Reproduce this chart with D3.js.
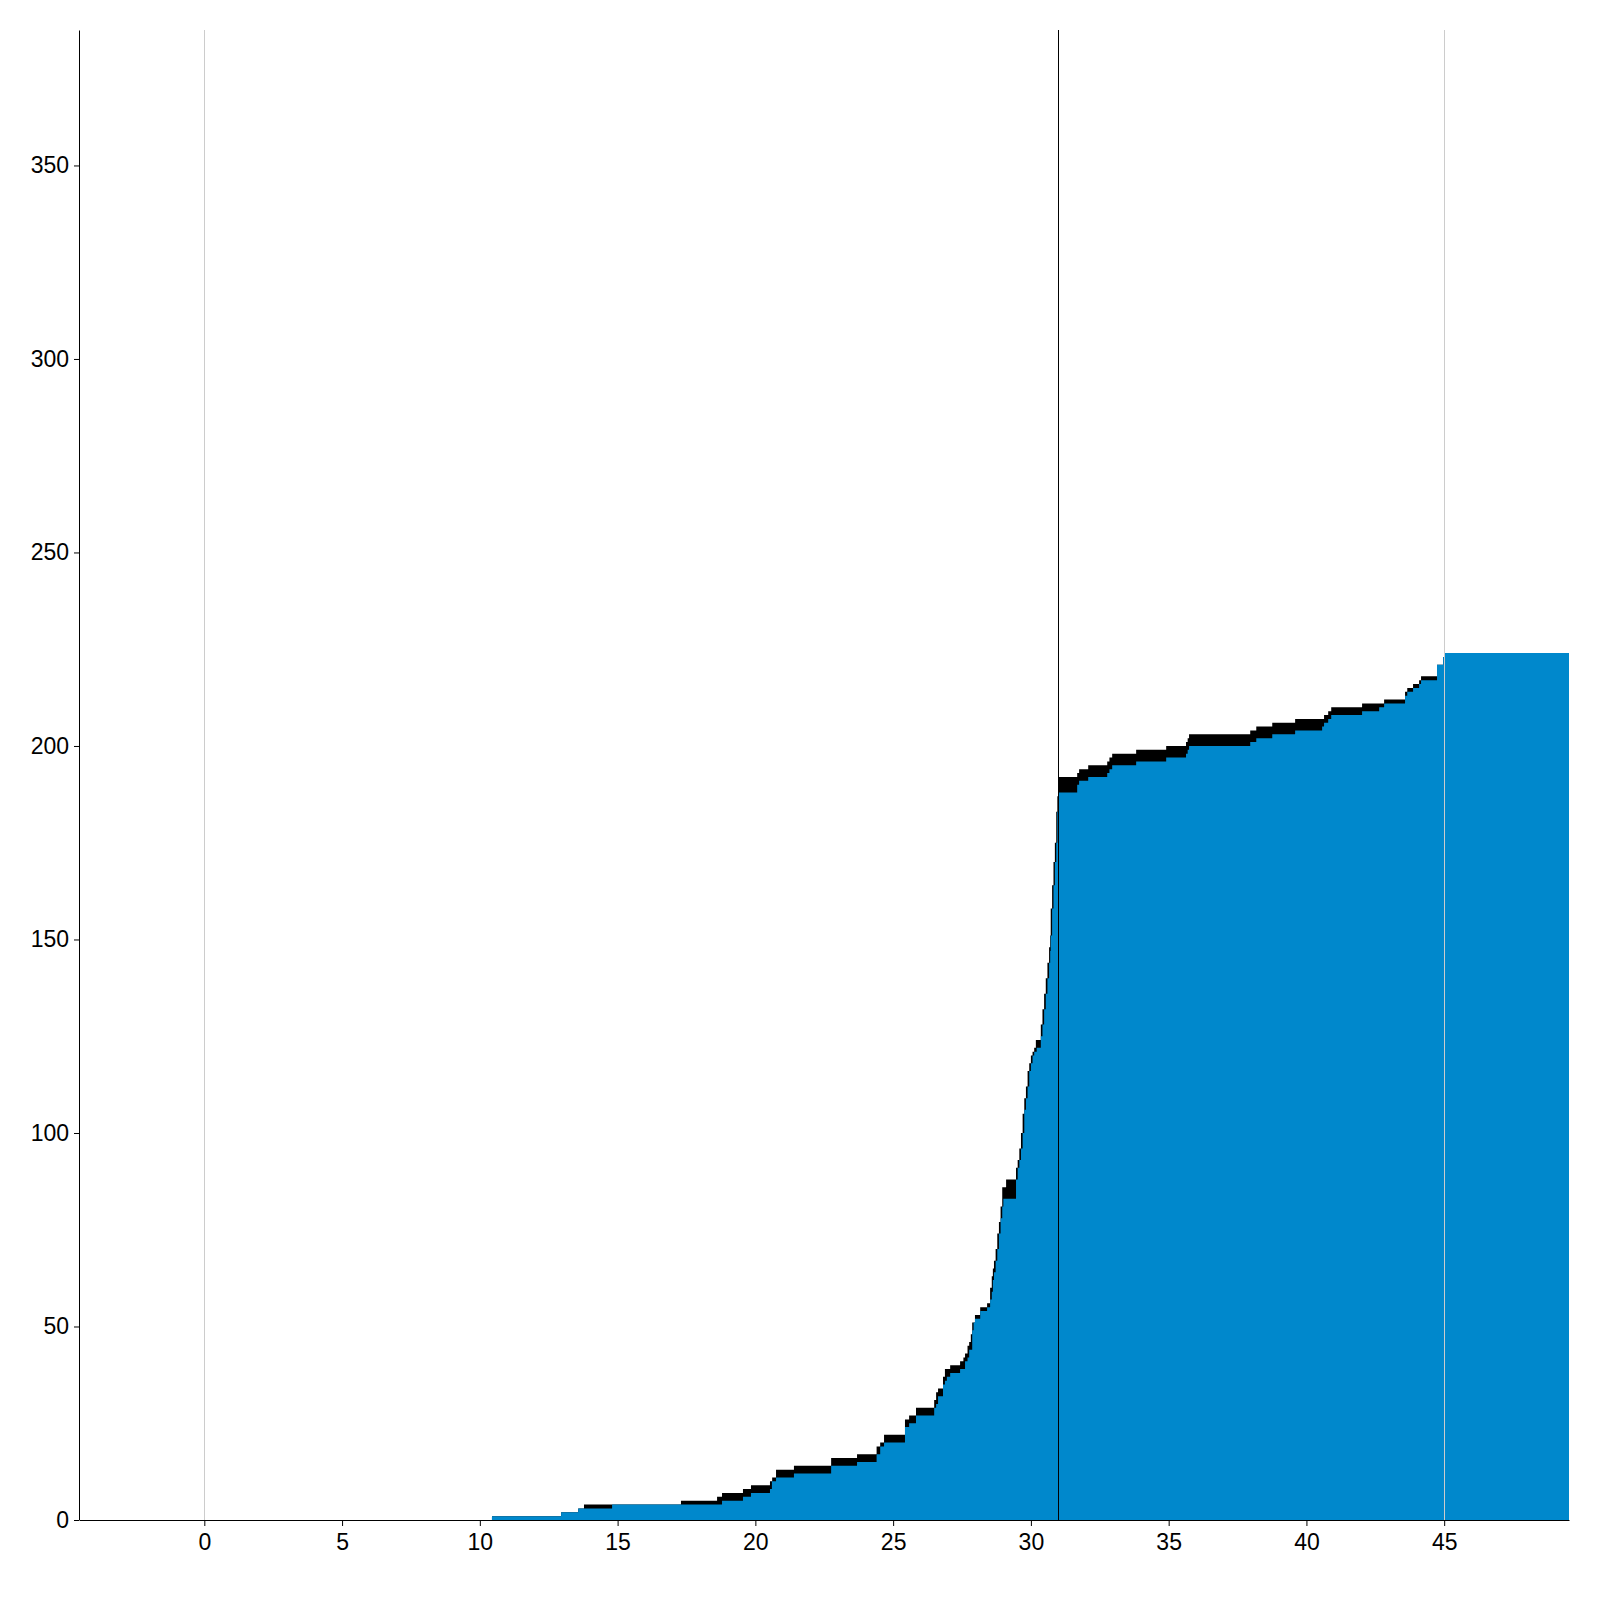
<!DOCTYPE html>
<html>
<head>
<meta charset="utf-8">
<script src="https://cdn.jsdelivr.net/npm/d3@7"></script>
<style>
  body { margin: 0; background: #fff; }
  text { font-family: "Liberation Sans", Arial, sans-serif; }
</style>
</head>
<body>
<svg id="chart" width="1600" height="1600"></svg>
<script>
// ---- data ----
const blueX = [10.44, 12.95, 13.57, 14.80, 18.79, 19.55, 19.84, 20.53, 20.60, 20.75, 21.40, 22.75, 23.69,
  24.40, 24.53, 24.67, 25.43, 25.58, 25.83, 26.49, 26.56, 26.63, 26.81, 26.88, 26.95, 27.07, 27.43, 27.61,
  27.70, 27.76, 27.87, 27.92, 27.97, 28.16, 28.41, 28.52, 28.58, 28.62, 28.66, 28.72, 28.78, 28.84, 28.90,
  28.96, 29.00, 29.46, 29.52, 29.58, 29.64, 29.70, 29.76, 29.82, 29.88, 29.94, 30.00, 30.06, 30.12, 30.21,
  30.36, 30.42, 30.48, 30.54, 30.60, 30.66, 30.70, 30.72, 30.77, 30.82, 30.87, 30.92, 30.96, 30.99, 31.01,
  31.68, 31.75, 32.08, 32.77, 32.85, 32.95, 33.82, 34.91, 35.63, 35.69, 35.74, 37.96, 38.18, 38.76, 39.59,
  40.57, 40.64, 40.79, 40.90, 42.02, 42.64, 42.82, 43.58, 43.66, 43.87, 44.09, 44.16, 44.74, 44.96, 45.00, 49.53];
const blueY = [1, 2, 3, 4, 5, 6, 7, 8, 10, 11, 12, 14, 15,
  17, 19, 20, 24, 25, 27, 29, 30, 32, 35, 36, 37, 38, 39, 41,
  42, 44, 49, 51, 52, 54, 55, 57, 59, 62, 64, 67, 70, 74, 78,
  81, 83, 88, 91, 93, 96, 100, 106, 109, 112, 116, 118, 120, 121, 122,
  125, 128, 132, 136, 140, 144, 147, 151, 158, 164, 170, 175, 183, 187, 188,
  190, 191, 192, 193, 194, 195, 196, 197, 198, 199, 200, 201, 202, 203, 204,
  205, 206, 207, 208, 209, 210, 211, 213, 214, 215, 216, 217, 221, 223, 224, 224];

const totalX = [10.44, 12.95, 13.57, 13.78, 17.30, 18.61, 18.79, 19.55, 19.84, 20.53, 20.61, 20.75, 21.40,
  22.75, 23.69, 24.40, 24.53, 24.67, 25.43, 25.58, 25.83, 26.49, 26.56, 26.63, 26.81, 26.88, 27.07, 27.43,
  27.55, 27.61, 27.70, 27.76, 27.82, 27.87, 27.97, 28.16, 28.41, 28.52, 28.58, 28.62, 28.66, 28.72, 28.78,
  28.84, 28.90, 28.96, 29.10, 29.46, 29.52, 29.58, 29.64, 29.70, 29.76, 29.82, 29.88, 29.94, 30.00, 30.06,
  30.12, 30.18, 30.36, 30.42, 30.48, 30.54, 30.60, 30.66, 30.70, 30.72, 30.77, 30.82, 30.87, 30.92, 30.96,
  30.99, 31.01, 31.68, 31.75, 32.08, 32.77, 32.85, 32.95, 33.82, 34.91, 35.63, 35.69, 35.74, 37.96, 38.18,
  38.76, 39.59, 40.64, 40.79, 40.90, 42.02, 42.82, 43.58, 43.66, 43.87, 44.09, 44.16, 44.74, 44.96, 45.00, 49.53];
const totalY = [1, 2, 3, 4, 5, 6, 7, 8, 9, 10, 11, 13, 14,
  16, 17, 19, 20, 22, 26, 27, 29, 31, 33, 34, 37, 39, 40, 41,
  42, 43, 45, 46, 48, 51, 53, 55, 56, 60, 63, 65, 67, 70, 74,
  77, 81, 86, 88, 91, 93, 96, 100, 105, 109, 112, 116, 118, 120, 121,
  122, 124, 128, 132, 136, 140, 144, 148, 151, 158, 164, 170, 175, 183, 187,
  190, 192, 193, 194, 195, 196, 197, 198, 199, 200, 201, 202, 203, 204, 205,
  206, 207, 208, 209, 210, 211, 212, 214, 215, 216, 217, 218, 221, 223, 224, 224];

const xTicks = [0, 5, 10, 15, 20, 25, 30, 35, 40, 45];
const yTicks = [0, 50, 100, 150, 200, 250, 300, 350];
const gridLinesX = [0, 45];
const markerX = [31];

// ---- layout ----
const W = 1600, H = 1600;
const margin = { top: 30, right: 31, bottom: 80, left: 79.5 };
const svg = d3.select("#chart");

const x = d3.scaleLinear().domain([-4.53, 49.53]).range([margin.left, W - margin.right]);
const y = d3.scaleLinear().domain([0, 385]).range([H - margin.bottom, margin.top]);

const totalData = totalX.map((d, i) => [d, totalY[i]]);
const blueData = blueX.map((d, i) => [d, blueY[i]]);

const area = d3.area()
  .x(d => x(d[0]))
  .y0(y(0))
  .y1(d => y(d[1]))
  .curve(d3.curveStepAfter);

svg.append("path").datum(totalData).attr("d", area).attr("fill", "#000");
svg.append("path").datum(blueData).attr("d", area).attr("fill", "#0088cc");

// grid lines at 0 and 45
svg.selectAll("line.grid").data(gridLinesX).enter().append("line")
  .attr("class", "grid")
  .attr("x1", d => Math.floor(x(d)) + 0.5).attr("x2", d => Math.floor(x(d)) + 0.5)
  .attr("y1", margin.top).attr("y2", H - margin.bottom)
  .attr("stroke", "#cccccc").attr("stroke-width", 1);

// marker line
svg.selectAll("line.marker").data(markerX).enter().append("line")
  .attr("class", "marker")
  .attr("x1", d => Math.floor(x(d)) + 0.5).attr("x2", d => Math.floor(x(d)) + 0.5)
  .attr("y1", margin.top).attr("y2", H - margin.bottom)
  .attr("stroke", "#000").attr("stroke-width", 1);

// axes
const gx = svg.append("g")
  .attr("transform", `translate(0,${H - margin.bottom})`)
  .call(d3.axisBottom(x).tickValues(xTicks).tickFormat(d3.format("d")).tickSize(6).tickPadding(8).tickSizeOuter(0));
const gy = svg.append("g")
  .attr("transform", `translate(${Math.floor(margin.left)},0)`)
  .call(d3.axisLeft(y).tickValues(yTicks).tickFormat(d3.format("d")).tickSize(5).tickPadding(5).tickSizeOuter(0));

[gx, gy].forEach(g => {
  g.selectAll("text").attr("font-size", 23).attr("fill", "#000")
    .attr("font-family", "'Liberation Sans', Arial, sans-serif");
  g.selectAll("line").attr("stroke", "#000");
  g.select(".domain").attr("stroke", "#000");
});
</script>
</body>
</html>
